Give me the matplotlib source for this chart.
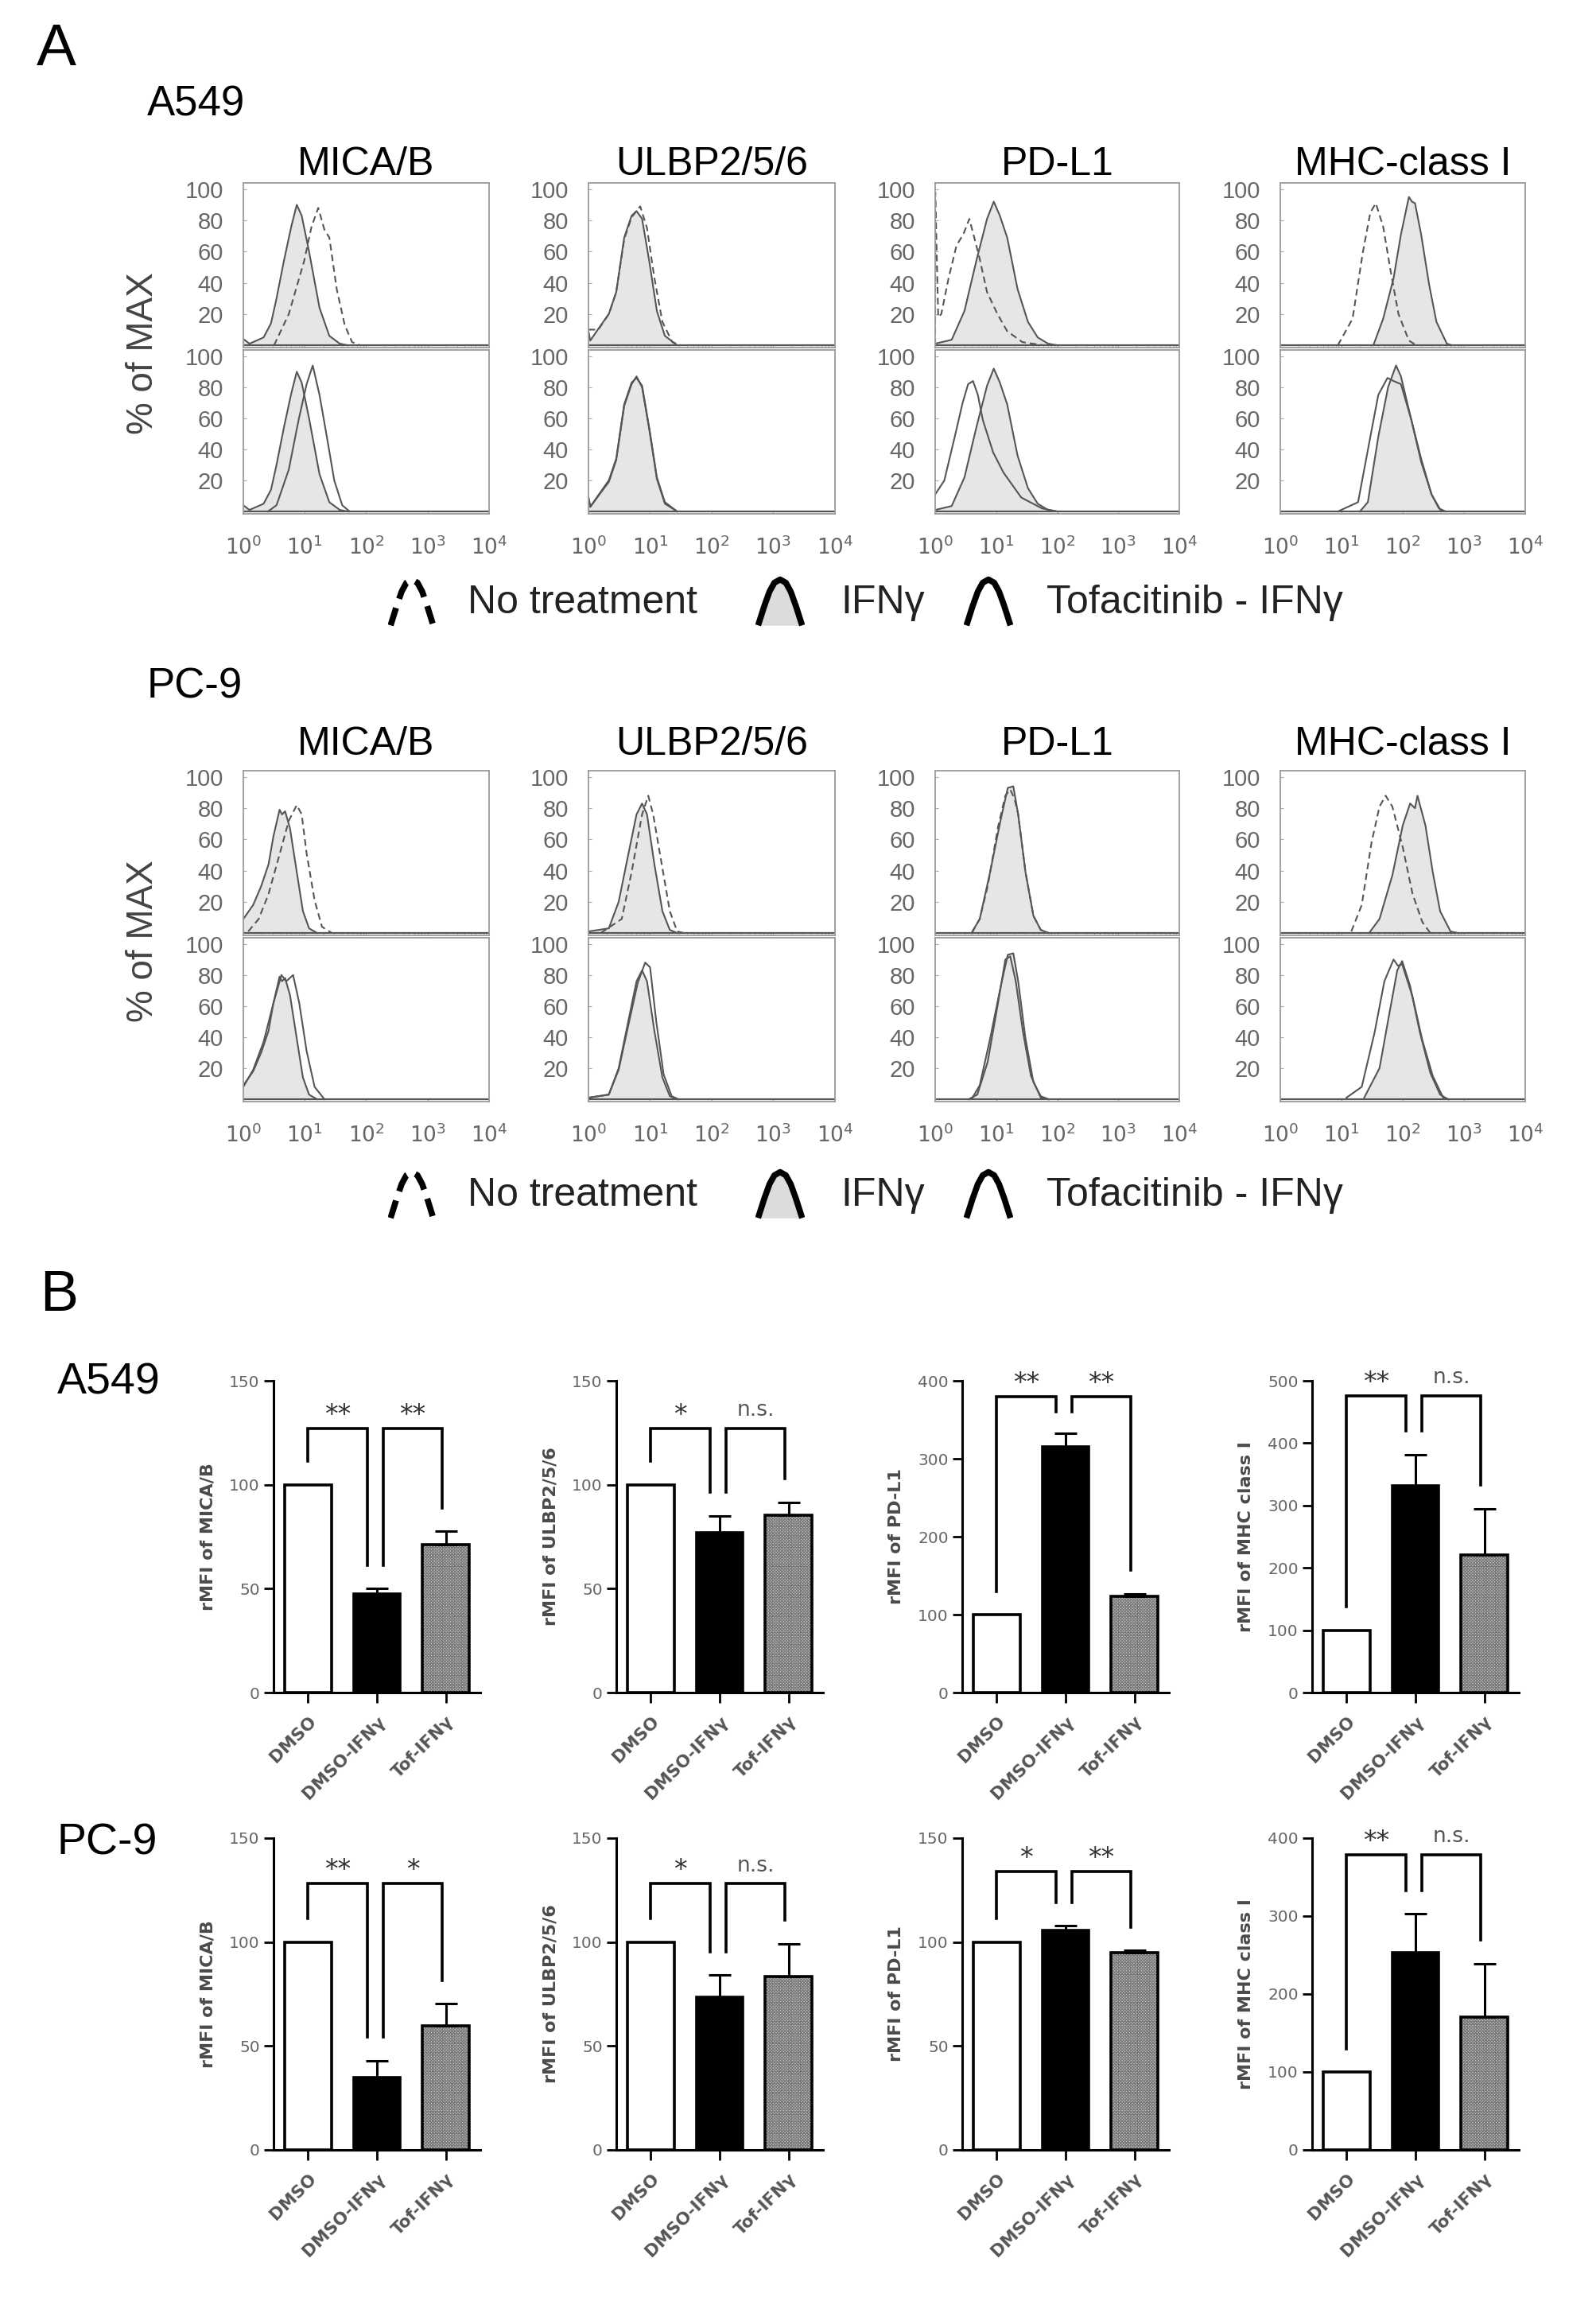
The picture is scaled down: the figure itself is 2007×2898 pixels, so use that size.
import numpy as np
import matplotlib.pyplot as plt

plt.rcParams['font.family'] = ['Liberation Sans', 'DejaVu Sans']
plt.rcParams['hatch.linewidth'] = 1.0

# ---------------- data ----------------
markers = ['MICA/B', 'ULBP2/5/6', 'PD-L1', 'MHC-class I']
decades = ['$10^{0}$', '$10^{1}$', '$10^{2}$', '$10^{3}$', '$10^{4}$']
legend_labels = ['No treatment', 'IFNγ', 'Tofacitinib - IFNγ']

# histogram traces: (log10 intensity, % of max)
A549_MICA_NT = [(0.5, 0), (0.74, 20), (0.99, 54), (1.11, 76), (1.22, 88), (1.32, 74), (1.4, 69),
                (1.52, 36), (1.65, 13), (1.77, 2), (1.9, 0)]
A549_MICA_IFN = [(0, 4), (0.1, 1), (0.33, 5), (0.45, 14), (0.54, 30), (0.66, 54), (0.78, 76), (0.87, 90),
                 (0.95, 83), (1.07, 60), (1.24, 24), (1.4, 6), (1.57, 1), (1.7, 0)]
A549_MICA_TOF = [(0.4, 0), (0.54, 4), (0.74, 27), (0.9, 59), (1.03, 82), (1.13, 94), (1.24, 75), (1.36, 48),
                 (1.48, 20), (1.61, 4), (1.73, 0)]
A549_ULBP_NT = [(0, 10), (0.16, 10), (0.33, 20), (0.45, 34), (0.58, 68), (0.7, 82), (0.84, 89), (0.95, 75),
                (1.07, 43), (1.2, 15), (1.36, 2), (1.5, 0)]
A549_ULBP_IFN = [(0, 9), (0.03, 3), (0.16, 10.5), (0.33, 20), (0.45, 34), (0.58, 69), (0.7, 83), (0.78, 86),
                 (0.87, 81), (0.99, 53), (1.11, 22), (1.24, 6), (1.44, 0)]
A549_ULBP_TOF = [(0, 9), (0.03, 3), (0.16, 10), (0.33, 19), (0.45, 33), (0.58, 68), (0.7, 82), (0.78, 87),
                 (0.87, 80), (0.99, 52), (1.11, 21), (1.24, 5), (1.44, 0)]
A549_PDL1_NT = [(0, 0), (0.002, 98), (0.05, 18), (0.1, 20), (0.22, 43), (0.35, 64), (0.46, 71), (0.56, 81),
                (0.64, 69), (0.72, 57), (0.85, 34), (1.02, 20), (1.18, 9), (1.43, 2), (1.77, 0)]
A549_PDL1_IFN = [(0, 1), (0.27, 3.5), (0.48, 22), (0.68, 55), (0.85, 81), (0.96, 92), (1.06, 83), (1.18, 69),
                 (1.35, 36), (1.52, 15), (1.68, 5), (1.85, 1), (2.0, 0)]
A549_PDL1_TOF = [(0, 11), (0.15, 20), (0.32, 48), (0.45, 70), (0.54, 82), (0.62, 84), (0.7, 75), (0.78, 59),
                 (0.95, 38), (1.12, 25), (1.41, 9), (1.75, 2), (2.0, 0)]
A549_MHC_NT = [(0.94, 0), (1.18, 17), (1.35, 60), (1.47, 85), (1.56, 91), (1.68, 76), (1.8, 48), (1.93, 20),
               (2.1, 3), (2.22, 0)]
A549_MHC_IFN = [(1.52, 0), (1.68, 17), (1.85, 43), (1.97, 71), (2.1, 95), (2.15, 92), (2.2, 91), (2.3, 71),
                (2.43, 39), (2.55, 15), (2.72, 1), (2.8, 0)]
A549_MHC_IFN_B = [(1.3, 0), (1.43, 6), (1.6, 48), (1.76, 80), (1.89, 94), (1.97, 87), (2.14, 59), (2.3, 34),
                  (2.47, 11), (2.59, 2), (2.7, 0)]
A549_MHC_TOF = [(0.94, 0), (1.27, 6), (1.47, 48), (1.6, 75), (1.75, 86), (1.85, 84), (1.97, 82), (2.14, 59),
                (2.3, 32), (2.47, 11), (2.63, 0)]

PC9_MICA_NT = [(0.08, 1), (0.25, 9), (0.41, 25), (0.58, 49), (0.74, 72), (0.87, 82), (0.95, 76), (1.03, 51),
               (1.16, 21), (1.28, 4), (1.44, 0)]
PC9_MICA_IFN = [(0, 9), (0.16, 18), (0.29, 30), (0.41, 44), (0.49, 62), (0.59, 79), (0.63, 76), (0.68, 78),
                (0.76, 67), (0.87, 39), (0.97, 14), (1.07, 3), (1.2, 0)]
PC9_MICA_TOF = [(0, 8), (0.16, 19), (0.33, 37), (0.49, 62), (0.62, 80), (0.7, 76), (0.81, 80), (0.91, 62),
                (1.03, 31), (1.16, 8), (1.32, 0)]
PC9_ULBP_NT = [(0.2, 0), (0.54, 9), (0.7, 39), (0.87, 76), (0.97, 88), (1.05, 76), (1.15, 53), (1.32, 14),
               (1.44, 1), (1.55, 0)]
PC9_ULBP_IFN = [(0, 1), (0.33, 3), (0.49, 20), (0.66, 53), (0.78, 76), (0.87, 83), (0.95, 76), (1.07, 44),
                (1.2, 14), (1.32, 2), (1.44, 0)]
PC9_ULBP_TOF = [(0, 1), (0.33, 3), (0.49, 19), (0.66, 50), (0.8, 75), (0.92, 88), (1.0, 85), (1.1, 50),
                (1.22, 16), (1.35, 2), (1.46, 0)]
PC9_PDL1_NT = [(0.6, 0), (0.73, 9), (0.86, 30), (1.03, 68), (1.15, 88), (1.23, 92), (1.3, 86), (1.36, 76),
               (1.48, 39), (1.61, 11), (1.73, 2), (1.86, 0)]
PC9_PDL1_IFN = [(0.61, 1), (0.73, 9), (0.9, 39), (1.07, 72), (1.19, 93), (1.28, 94), (1.36, 76), (1.48, 39),
                (1.61, 11), (1.73, 2), (1.86, 0)]
PC9_PDL1_TOF = [(0.55, 0), (0.69, 3), (0.86, 24), (1.03, 62), (1.15, 90), (1.23, 92), (1.32, 76), (1.44, 43),
                (1.57, 15), (1.73, 1), (1.85, 0)]
PC9_MHC_NT = [(1.16, 1), (1.33, 18), (1.49, 58), (1.62, 81), (1.72, 88), (1.83, 81), (2.0, 55), (2.16, 25),
              (2.32, 7), (2.45, 0)]
PC9_MHC_IFN = [(1.45, 0), (1.62, 9), (1.83, 37), (2.0, 69), (2.12, 83), (2.2, 80), (2.24, 88), (2.37, 69),
               (2.49, 39), (2.61, 14), (2.78, 1), (2.9, 0)]
PC9_MHC_IFN_B = [(1.37, 1), (1.62, 20), (1.78, 55), (1.91, 83), (1.99, 89), (2.12, 73), (2.28, 43), (2.45, 17),
                 (2.61, 3), (2.74, 0)]
PC9_MHC_TOF = [(1.08, 1), (1.33, 8), (1.54, 43), (1.7, 76), (1.85, 90), (1.92, 86), (1.99, 87), (2.16, 66),
               (2.32, 38), (2.49, 15), (2.66, 1), (2.75, 0)]

# (top: no treatment vs IFN, bottom: IFN vs Tof-IFN)
a549_hist = [(A549_MICA_NT, A549_MICA_IFN, A549_MICA_IFN, A549_MICA_TOF),
             (A549_ULBP_NT, A549_ULBP_IFN, A549_ULBP_IFN, A549_ULBP_TOF),
             (A549_PDL1_NT, A549_PDL1_IFN, A549_PDL1_IFN, A549_PDL1_TOF),
             (A549_MHC_NT, A549_MHC_IFN, A549_MHC_IFN_B, A549_MHC_TOF)]
pc9_hist = [(PC9_MICA_NT, PC9_MICA_IFN, PC9_MICA_IFN, PC9_MICA_TOF),
            (PC9_ULBP_NT, PC9_ULBP_IFN, PC9_ULBP_IFN, PC9_ULBP_TOF),
            (PC9_PDL1_NT, PC9_PDL1_IFN, PC9_PDL1_IFN, PC9_PDL1_TOF),
            (PC9_MHC_NT, PC9_MHC_IFN, PC9_MHC_IFN_B, PC9_MHC_TOF)]

# bar charts (panel B)
groups = ['DMSO', 'DMSO-IFNγ', 'Tof-IFNγ']
bar_ylabels = ['rMFI of MICA/B', 'rMFI of ULBP2/5/6', 'rMFI of PD-L1', 'rMFI of MHC class I']
a549_means = [[100, 47.6, 71], [100, 77, 85.5], [100, 315, 123.5], [100, 331, 221]]
a549_err = [[0, 2.4, 6.5], [0, 8, 6], [0, 18, 3.5], [0, 51, 74]]
a549_sig = [['**', '**'], ['*', 'n.s.'], ['**', '**'], ['**', 'n.s.']]
a549_ymax = [150, 150, 400, 500]
a549_step = [50, 50, 100, 100]
a549_bracket = [127, 127, 380, 476]
pc9_means = [[100, 35, 59.6], [100, 73.3, 83.6], [100, 105.8, 94.8], [100, 252.7, 170]]
pc9_err = [[0, 8, 10.8], [0, 10.7, 15.6], [0, 2, 1.2], [0, 50, 69]]
pc9_sig = [['**', '*'], ['*', 'n.s.'], ['*', '**'], ['**', 'n.s.']]
pc9_ymax = [150, 150, 150, 400]
pc9_step = [50, 50, 50, 100]
pc9_bracket = [128, 128, 134, 379]

# ---------------- layout helpers ----------------
W, H = 2008, 2898
fig = plt.figure(figsize=(W / 100, H / 100), dpi=100)


def px_axes(x0, y0, x1, y1):
    return fig.add_axes([x0 / W, 1 - y1 / H, (x1 - x0) / W, (y1 - y0) / H])


def px_text(x, y, s, **kw):
    fig.text(x / W, 1 - y / H, s, **kw)


def trace(points):
    lx, pct = zip(*points)
    return 10 ** np.array(lx), np.array(pct)


LINE = '#555555'


def hist_panel(ax, filled, other, dashed, show_x):
    fx, fy = trace(filled)
    ox, oy = trace(other)
    ax.fill_between(fx, 0, fy, color='#e6e6e6', lw=0)
    ax.axhline(0, color=LINE, lw=1.6)
    ax.plot(ox, oy, color=LINE, lw=1.5, ls=(0, (4, 2.5)) if dashed else '-')
    ax.plot(fx, fy, color=LINE, lw=1.5)
    ax.set_xscale('log')
    ax.set_xlim(1, 1e4)
    ax.set_ylim(-1.5, 104)
    ax.set_yticks([20, 40, 60, 80, 100])
    ax.set_yticklabels(['20', '40', '60', '80', '100'])
    ax.tick_params(axis='y', direction='in', length=3, color='#aaaaaa', labelsize=21,
                   labelcolor='#666666', pad=18)
    ax.tick_params(axis='x', which='both', direction='in', length=3, color='#aaaaaa')
    ax.set_xticks([1, 10, 100, 1000, 10000])
    if show_x:
        ax.set_xticklabels(decades)
        ax.tick_params(axis='x', labelsize=19, labelcolor='#666666', pad=20)
    else:
        ax.set_xticklabels([])
    for s in ax.spines.values():
        s.set_color('#9a9a9a')
        s.set_linewidth(1.3)


col_x = [(306, 615), (740, 1050), (1176, 1483), (1610, 1918)]

PEAK = [(0, 0), (0.14, 0.42), (0.26, 0.74), (0.37, 0.93), (0.5, 1), (0.63, 0.93), (0.74, 0.74),
        (0.86, 0.42), (1, 0)]


def legend_row(yc):
    glyphs = [(488, 548, 'dashed', 588), (950, 1012, 'filled', 1057), (1212, 1274, 'open', 1316)]
    for (g0, g1, kind, tx), lab in zip(glyphs, legend_labels):
        ax = px_axes(g0, yc - 34, g1, yc + 30)
        ax.axis('off')
        ax.set_xlim(-0.06, 1.06)
        ax.set_ylim(-0.03, 1.08)
        gx, gy = zip(*PEAK)
        if kind == 'filled':
            ax.fill_between(gx, 0, gy, color='#dcdcdc', lw=0)
        ax.plot(gx, gy, color='black', lw=5.5,
                ls=(0, (3.0, 1.6)) if kind == 'dashed' else '-', solid_capstyle='butt',
                solid_joinstyle='round')
        px_text(tx, yc, lab, fontsize=36, ha='left', va='center', color='#222222')


def hist_block(data, label, label_y, title_y, top, mid, bot, legend_y):
    px_text(185, label_y, label, fontsize=38, va='center', ha='left')
    for (x0, x1), name, (nt, ifn, ifn_b, tof) in zip(col_x, markers, data):
        px_text((x0 + x1) / 2, title_y, name, fontsize=36, ha='center', va='center')
        hist_panel(px_axes(x0, top, x1, mid), ifn, nt, True, False)
        hist_panel(px_axes(x0, mid + 3, x1, bot), ifn_b, tof, False, True)
    px_text(180, (top + bot) / 2 + 6, '% of MAX', fontsize=33, rotation=90, ha='center', va='center',
            color='#444444')
    legend_row(legend_y)


# ---------------- panel A ----------------
px_text(46, 62, 'A', fontsize=54, va='center', ha='left')
hist_block(a549_hist, 'A549', 131, 207, 230, 437, 646, 758)
hist_block(pc9_hist, 'PC-9', 864, 936, 969, 1176, 1385, 1503)

# ---------------- panel B ----------------
px_text(50, 1630, 'B', fontsize=52, va='center', ha='left')

bar_x = [344, 775, 1210, 1650]
SPANS = [(0, 0.86), (1.09, 1.95)]
BFONT = 'DejaVu Sans'


def bar_panel(ax, means, errs, ymax, step, ylabel, marks, level):
    x = np.arange(len(groups))
    means = np.array(means, dtype=float)
    errs = np.array(errs, dtype=float)
    ax.bar(x[2], means[2], width=0.68, color='#dadada', edgecolor='#7a7a7a', hatch='xxxxxxxxx', lw=0,
           zorder=1.5)
    ax.bar(x, means, width=0.68, color=['white', 'black', 'none'], edgecolor='black', lw=2.6, zorder=2)
    m = errs > 0
    ax.errorbar(x[m], means[m], yerr=[np.zeros(m.sum()), errs[m]], fmt='none', ecolor='black',
                elinewidth=2.2, capsize=10, capthick=2.2, zorder=3)
    tops = means + errs
    for (a, b), mark in zip(SPANS, marks):
        la = min(tops[int(round(a))] + 0.075 * ymax, level - 0.05 * ymax)
        lb = min(tops[int(round(b))] + 0.075 * ymax, level - 0.05 * ymax)
        ax.plot([a, a, b, b], [la, level, level, lb], color='black', lw=2.6, clip_on=False,
                solid_joinstyle='miter')
        if mark == 'n.s.':
            ax.text((a + b) / 2, level + 0.025 * ymax, mark, ha='center', va='bottom', fontsize=19,
                    color='#555555', family=BFONT, clip_on=False)
        else:
            ax.text((a + b) / 2, level, mark, ha='center', va='bottom', fontsize=24,
                    color='#333333', family=BFONT, clip_on=False)
    ax.set_xlim(-0.5, 2.5)
    ax.set_ylim(0, ymax)
    ax.set_yticks(np.arange(0, ymax + 1, step))
    ax.set_xticks(x)
    ax.set_xticklabels(groups, rotation=45, ha='right', rotation_mode='anchor', fontsize=15.5,
                       fontweight='bold', color='#555555', family=BFONT)
    for lab in ax.get_yticklabels():
        lab.set_family(BFONT)
    ax.set_ylabel(ylabel, fontsize=16, fontweight='bold', color='#4a4a4a', labelpad=12, family=BFONT)
    ax.tick_params(axis='both', length=9, width=2, color='black', labelsize=14.5, labelcolor='#666666')
    ax.tick_params(axis='x', pad=10, labelsize=15.5, labelcolor='#555555')
    for side in ('top', 'right'):
        ax.spines[side].set_visible(False)
    for side in ('left', 'bottom'):
        ax.spines[side].set_linewidth(2.2)


def bar_block(label, label_y, top, bot, means, errs, ymaxes, steps, sigs, brackets):
    px_text(72, label_y, label, fontsize=40, va='center', ha='left')
    for x0, mu, er, ym, st, yl, sg, br in zip(bar_x, means, errs, ymaxes, steps, bar_ylabels, sigs, brackets):
        bar_panel(px_axes(x0, top, x0 + 260, bot), mu, er, ym, st, yl, sg, br)


bar_block('A549', 1738, 1736, 2128, a549_means, a549_err, a549_ymax, a549_step, a549_sig, a549_bracket)
bar_block('PC-9', 2318, 2311, 2703, pc9_means, pc9_err, pc9_ymax, pc9_step, pc9_sig, pc9_bracket)

fig.savefig('out.png', dpi=100, facecolor='white')
